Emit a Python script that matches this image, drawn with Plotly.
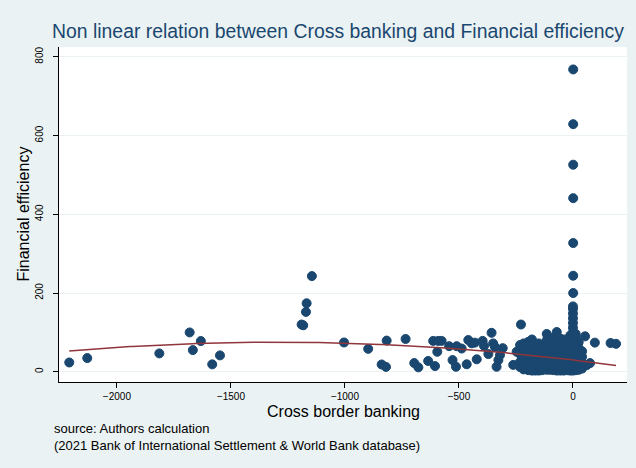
import numpy as np
import plotly.graph_objects as go

# Scattered country-year observations: cross border banking vs financial efficiency
cbb_scatter = [-2209, -2130, -1814, -1681, -1667, -1632, -1582, -1548,
               -1190, -1183, -1171, -1168, -1145, -1004, -898, -839, -820,
               -817, -734, -696, -678, -635, -613, -591, -576, -605, -595,
               -543, -510, -528, -513, -488, -466, -459, -444, -430, -422,
               -396, -390, -371, -357, -350, -342, -335, -327, -320, -308,
               -262, -247, -228, 53, 96, 165, 189, 75, 61]
fe_scatter = [23.6, 34.8, 46.6, 99.9, 55, 78, 18.8, 41.6,
              120, 118, 152, 174, 243, 74.4, 58.2, 18.5, 12.4,
              79.2, 83.3, 22.1, 11.2, 27.4, 78.4, 78.4, 78.4, 14.5, 50.8,
              65, 65, 29.7, 12.7, 59, 19, 80.7, 72.3, 74, 31.7,
              78.4, 65.7, 45, 99, 72, 63, 12.7, 29.7, 42.4, 60,
              17.5, 50.8, 120, 90, 74, 73, 71, 22, 17]

# Dense cluster of observations close to zero cross border banking
cbb_cluster_cols = [-232, -217, -196, -180, -165, -150, -135, -115, -100, -85,
                    -71, -55, -40, -25, -12, 0, 12, 25, 40]
fe_cluster_cols = [
    [12, 25, 45, 68],
    [6, 15, 35, 55, 72],
    [4, 8, 22, 40, 60, 76],
    [3, 5, 20, 38, 55, 70, 82],
    [3, 5, 20, 35, 50, 66],
    [3, 5, 18, 32, 48, 62, 72],
    [4, 8, 22, 38, 52, 65],
    [5, 20, 35, 50, 65, 80, 96],
    [5, 18, 32, 46, 60, 75],
    [4, 16, 30, 44, 58, 72, 86],
    [3, 15, 28, 42, 56, 70, 85, 101],
    [3, 15, 28, 42, 56, 70, 84],
    [3, 15, 28, 42, 56, 70, 82],
    [4, 16, 30, 44, 58, 72, 80],
    [3, 14, 26, 40, 54, 68, 82, 92],
    [3, 14, 26, 38, 50, 62],
    [4, 16, 30, 44, 58, 72, 86, 96],
    [5, 18, 32, 46, 60, 75],
    [8, 22, 38, 52],
]

# Observations stacked at zero cross border banking
cbb_stack = [0, 0, 0, 0, 0, 0, 0, 0, 0, 1, 1, 1, 1, 1, 1, 1]
fe_stack = [75, 88, 100, 112, 124, 136, 148, 160, 166,
            200, 244, 327, 441, 526, 629, 768]

# Quadratic fit of financial efficiency on cross border banking: a*x^2 + b*x + c
qfit_coef = [-2.66e-5, -0.0692, 30.0]

x_ticks = [-2000, -1500, -1000, -500, 0]
y_ticks = [0, 200, 400, 600, 800]

cluster_x, cluster_y = [], []
for cx, ys in zip(cbb_cluster_cols, fe_cluster_cols):
    cluster_x += [cx] * len(ys)
    cluster_y += ys

all_x = np.array(cbb_scatter + cluster_x + cbb_stack, dtype=float)
all_y = np.array(fe_scatter + cluster_y + fe_stack, dtype=float)

fit_x = np.linspace(all_x.min(), all_x.max(), 200)
fit_y = np.polyval(qfit_coef, fit_x)

navy = "#1a476f"
maroon = "#90353b"
bg = "#EAF2F3"

fig = go.Figure()
fig.add_trace(go.Scatter(
    x=all_x, y=all_y, mode="markers",
    marker=dict(color=navy, size=9, line=dict(color=navy, width=1)),
    hoverinfo="skip",
))
fig.add_trace(go.Scatter(
    x=fit_x, y=fit_y, mode="lines",
    line=dict(color=maroon, width=1.5),
    hoverinfo="skip",
))

font_family = "Liberation Sans, Arial, sans-serif"

fig.update_layout(
    width=636, height=468,
    margin=dict(l=59, r=9, t=47, b=86),
    paper_bgcolor=bg, plot_bgcolor="white",
    showlegend=False,
    font=dict(family=font_family, color="black"),
    title=dict(
        text="Non linear relation between Cross banking and Financial efficiency",
        font=dict(size=19.4, color=navy, family=font_family),
        xref="container", x=338 / 636, xanchor="center",
        yref="container", y=1 - 31 / 468, yanchor="middle",
    ),
    xaxis=dict(
        range=[-2254, 237], tickvals=x_ticks,
        ticks="outside", ticklen=5, tickcolor="black", tickwidth=1,
        showline=True, linecolor="black", linewidth=1,
        showgrid=False, zeroline=False,
        tickfont=dict(size=10),
    ),
    yaxis=dict(
        range=[-26, 825], tickvals=y_ticks, tickangle=-90,
        ticks="outside", ticklen=5, tickcolor="black", tickwidth=1,
        showline=True, linecolor="black", linewidth=1,
        showgrid=True, gridcolor=bg, gridwidth=1, zeroline=False,
        tickfont=dict(size=10), ticklabelstandoff=6,
    ),
    annotations=[
        dict(text="Cross border banking", xref="paper", yref="paper",
             x=0.5, y=(382 - 411) / 335, xanchor="center", yanchor="middle",
             showarrow=False, font=dict(size=16)),
        dict(text="Financial efficiency", xref="paper", yref="paper",
             x=(23 - 59) / 568, y=0.5, xanchor="center", yanchor="middle",
             textangle=-90, showarrow=False, font=dict(size=16)),
        dict(text="source: Authors calculation<br>"
                  "(2021 Bank of International Settlement & World Bank database)",
             xref="paper", yref="paper",
             x=(52 - 59) / 568, y=(382 - 437) / 335, xanchor="left",
             yanchor="middle", align="left", showarrow=False,
             font=dict(size=13)),
    ],
)

fig.write_html("out.html")
